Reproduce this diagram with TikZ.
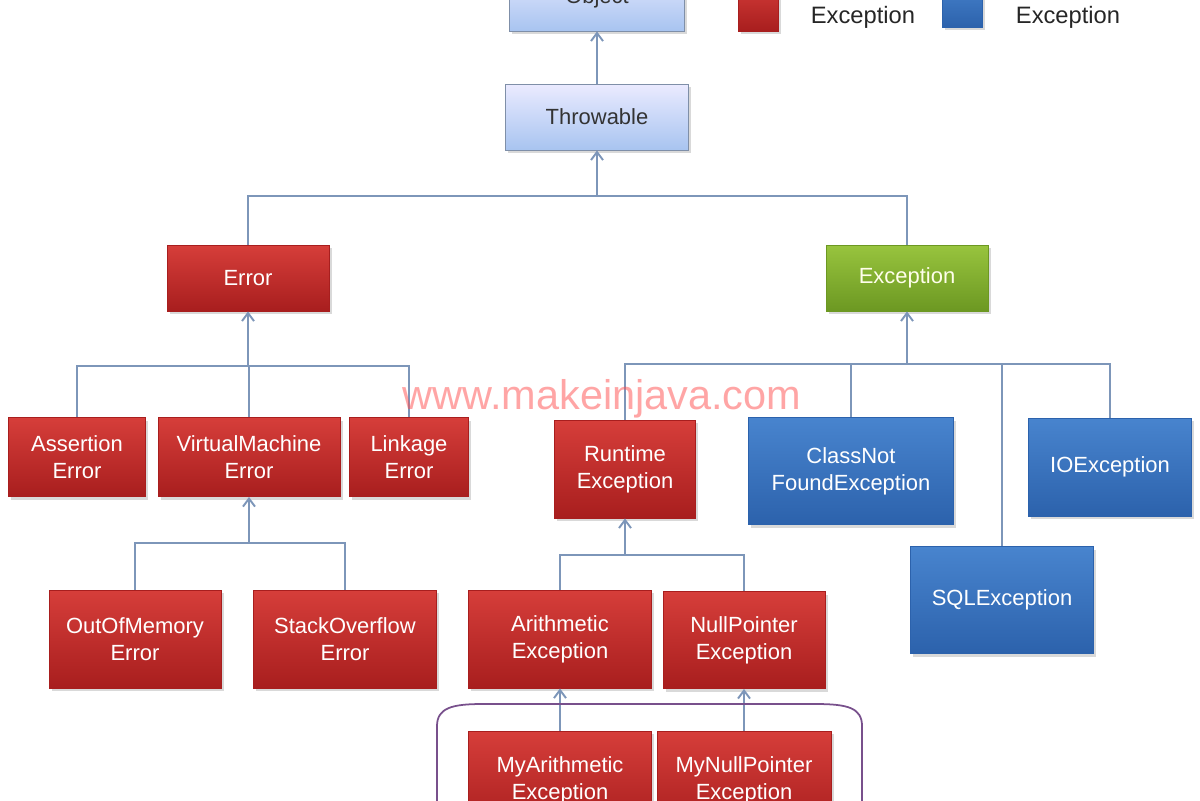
\documentclass[tikz,border=0pt]{standalone}
\usepackage{fontspec}
\setmainfont{Liberation Sans}
\usetikzlibrary{
  arrows.meta,
  shadows
}
\definecolor{rootblue}{RGB}{168,196,240}
\definecolor{rootedge}{RGB}{127,143,168}
\definecolor{errred}{RGB}{214,62,58}
\definecolor{errdark}{RGB}{168,30,30}
\definecolor{excgreen}{RGB}{152,196,62}
\definecolor{excdark}{RGB}{108,152,34}
\definecolor{chkblue}{RGB}{72,132,206}
\definecolor{chkdark}{RGB}{44,98,172}
\definecolor{linkline}{RGB}{125,150,185}
\definecolor{groupline}{RGB}{120,80,140}
\tikzset{
  wh/.style 2 args={minimum width=#1*0.2mm,minimum height=#2*0.2mm},
  classbox/.style={
    draw,
    align=center,
    inner sep=2pt,
    line width=0.5pt,
    font=\fontsize{12.5}{15.3}\selectfont,
    drop shadow={opacity=0.3,shadow xshift=0.5mm,shadow yshift=-0.6mm}
  },
  rootbox/.style={classbox,draw=rootedge,top color=blue!8,bottom color=rootblue,text=black!80},
  errbox/.style={classbox,draw=errdark,top color=errred,bottom color=errdark,text=white},
  excbox/.style={classbox,draw=excdark,top color=excgreen,bottom color=excdark,text=yellow!8},
  chkbox/.style={classbox,draw=chkdark,top color=chkblue,bottom color=chkdark,text=white},
  conn/.style={draw=linkline,line width=1.1pt},
  uparrow/.style={conn,-{Straight Barb[length=1.6mm,width=2.4mm]}},
  legendtext/.style={font=\fontsize{13.5}{16}\selectfont,text=black!85},
  watermark/.style={font=\fontsize{23.6}{28}\selectfont,text=red!70!white,opacity=0.5}
}
\begin{document}
\begin{tikzpicture}[x=0.2mm,y=-0.2mm]
  \useasboundingbox (0,0) rectangle (1200,800);

  \node[rootbox,wh={175}{66}] (obj) at (597,-2) {Object};
  \node[errbox,wh={40}{52}] (legred) at (758,5) {};
  \node[legendtext] (legredtxt) at (863,17) {Exception};
  \node[chkbox,wh={40}{48}] (legblue) at (962,3) {};
  \node[legendtext] (legbluetxt) at (1068,17) {Exception};

  \node[rootbox,wh={183}{66}] (thr) at (597,117) {Throwable};
  \node[errbox,wh={162}{66}] (err) at (248,278) {Error};
  \node[excbox,wh={162}{66}] (exc) at (907,278) {Exception};

  \node[errbox,wh={137}{79}] (asrt) at (77,457) {Assertion\\Error};
  \node[errbox,wh={182}{79}] (vme) at (249,457) {VirtualMachine\\Error};
  \node[errbox,wh={119}{79}] (lnk) at (409,457) {Linkage\\Error};
  \node[errbox,wh={172}{98}] (oom) at (135,639) {OutOfMemory\\Error};
  \node[errbox,wh={183}{98}] (soe) at (345,639) {StackOverflow\\Error};

  \node[errbox,wh={141}{98}] (rte) at (625,469) {Runtime\\Exception};
  \node[chkbox,wh={205}{107}] (cnf) at (851,471) {ClassNot\\FoundException};
  \node[chkbox,wh={183}{107}] (sql) at (1002,600) {SQLException};
  \node[chkbox,wh={163}{98}] (ioe) at (1110,467) {IOException};
  \node[errbox,wh={183}{98}] (ari) at (560,639) {Arithmetic\\Exception};
  \node[errbox,wh={162}{97}] (npe) at (744,640) {NullPointer\\Exception};
  \node[errbox,wh={183}{98}] (myari) at (560,780) {MyArithmetic\\Exception};
  \node[errbox,wh={174}{98}] (mynpe) at (744,780) {MyNullPointer\\Exception};

  \coordinate (thrbus) at (597,196);
  \coordinate (errbus) at (248,366);
  \coordinate (vmebus) at (249,543);
  \coordinate (excbus) at (907,364);
  \coordinate (rtebus) at (625,555);

  \draw[uparrow] (thr.north) -- (obj.south);
  \draw[conn] (err.north) |- (thrbus) -| (exc.north);
  \draw[uparrow] (thrbus) -- (thr.south);

  \draw[conn] (asrt.north) |- (errbus) -| (lnk.north);
  \draw[conn] (vme.north) -- (vme.north |- errbus);
  \draw[uparrow] (errbus) -- (err.south);

  \draw[conn] (oom.north) |- (vmebus) -| (soe.north);
  \draw[uparrow] (vmebus) -- (vme.south);

  \draw[conn] (rte.north) |- (excbus) -| (ioe.north);
  \draw[conn] (cnf.north) -- (cnf.north |- excbus);
  \draw[conn] (sql.north) -- (sql.north |- excbus);
  \draw[uparrow] (excbus) -- (exc.south);

  \draw[conn] (ari.north) |- (rtebus) -| (npe.north);
  \draw[uparrow] (rtebus) -- (rte.south);
  \draw[uparrow] (myari.north) -- (ari.south);
  \draw[uparrow] (mynpe.north) -- (npe.south);

  \draw[groupline,line width=1pt] (437,840) -- (437,726)
    .. controls (437,708) and (452,704) .. (482,704) -- (816,704)
    .. controls (848,704) and (862,708) .. (862,726) -- (862,840);

  \node[watermark] (wm) at (602,399) {www.makeinjava.com};
\end{tikzpicture}
\end{document}
